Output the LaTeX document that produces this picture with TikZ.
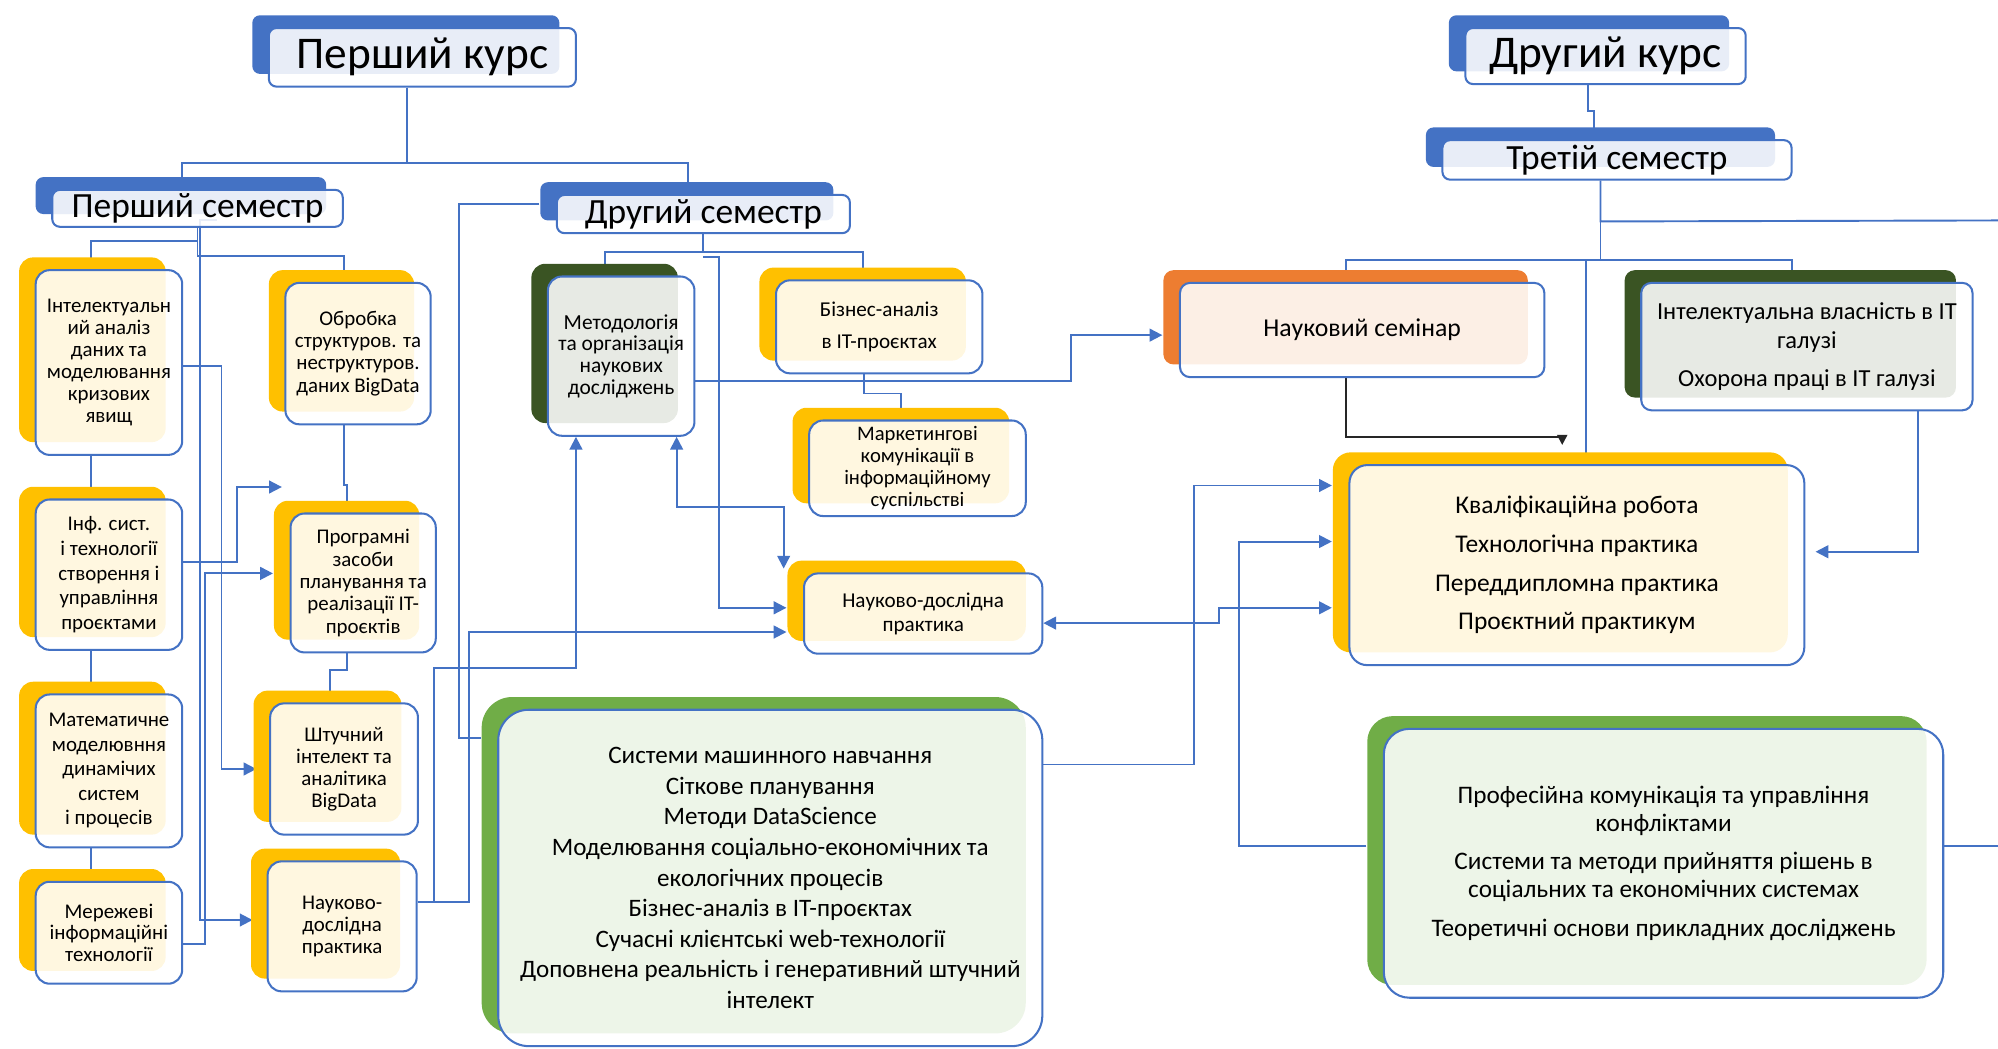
\documentclass[tikz,border=0pt]{standalone}
\usepackage{fontspec}
\setmainfont{Carlito}
\usetikzlibrary{positioning,shadows,arrows.meta,backgrounds}

\definecolor{boxblue}{HTML}{4472C4}
\definecolor{boxyellow}{HTML}{FFC000}
\definecolor{boxolive}{HTML}{3A5423}
\definecolor{boxorange}{HTML}{ED7D31}
\definecolor{boxgreen}{HTML}{70AD47}

\begin{document}
\begin{tikzpicture}[
  x=0.5pt, y=-0.5pt,
  txt/.style 2 args={font=\fontsize{#1}{#2}\selectfont},
  card/.style={shape=rectangle, rounded corners=5.5pt, draw=boxblue, line width=0.8pt,
    fill=white, fill opacity=0.88, text opacity=1, align=center, inner sep=0.5pt,
    general shadow={fill=#1, fill opacity=1, shadow xshift=-6.5pt, shadow yshift=5pt}},
  head/.style={card=boxblue, rounded corners=3pt, inner sep=0pt},
  conn/.style={draw=boxblue, line width=0.75pt},
  arr/.style={conn, -{Triangle[width=5pt,length=5pt]}},
  twoarr/.style={conn, {Triangle[width=5pt,length=5pt]}-{Triangle[width=5pt,length=5pt]}}
]
  \useasboundingbox (0,0) rectangle (1568,823);

  % Courses and semesters
  \node[head, txt={17.8pt}{19pt}, minimum width=120.5pt, minimum height=23pt] (k1) at (331.5,45) {Перший курс};
  \node[head, txt={13.9pt}{15pt}, minimum width=114pt, minimum height=14.5pt] (s1) at (155,163.5) {Перший семестр};
  \node[head, txt={13.9pt}{15pt}, minimum width=115pt, minimum height=15pt] (s2) at (552,168) {Другий семестр};
  \node[head, txt={17.8pt}{19pt}, minimum width=110pt, minimum height=22pt] (k2) at (1260,44) {Другий курс};
  \node[head, txt={13.9pt}{15pt}, minimum width=137pt, minimum height=15.5pt] (s3) at (1269,125.5) {Третій семестр};

  % First semester
  \node[card=boxyellow, txt={8.2pt}{8.6pt}, minimum width=57.5pt, minimum height=72.5pt] (ia) at (85.5,284.5)
    {Інтелектуальн\\ий аналіз\\даних та\\моделювання\\кризових\\явищ};
  \node[card=boxyellow, txt={8.2pt}{9.75pt}, minimum width=57.5pt, minimum height=59pt] (is) at (85.5,451)
    {Інф. сист.\\і технології\\створення і\\управління\\проєктами};
  \node[card=boxyellow, txt={8.2pt}{9.6pt}, minimum width=57.5pt, minimum height=60pt] (mm) at (85.5,605)
    {Математичне\\моделювння\\динамічих\\систем\\і процесів};
  \node[card=boxyellow, txt={8.2pt}{8.5pt}, minimum width=57.5pt, minimum height=40pt] (mi) at (85.5,732)
    {Мережеві\\інформаційні\\технології};
  \node[card=boxyellow, txt={8.2pt}{8.7pt}, minimum width=57pt, minimum height=55.5pt] (ob) at (281,277.5)
    {Обробка\\структуров. та\\неструктуров.\\даних BigData};
  \node[card=boxyellow, txt={8.2pt}{8.75pt}, minimum width=57pt, minimum height=54.5pt] (pz) at (285,457.5)
    {Програмні\\засоби\\планування та\\реалізації IT-\\проєктів};
  \node[card=boxyellow, txt={8.2pt}{8.6pt}, minimum width=58pt, minimum height=51.5pt] (si) at (270,603.5)
    {Штучний\\інтелект та\\аналітика\\BigData};
  \node[card=boxyellow, txt={8.2pt}{8.75pt}, minimum width=58.5pt, minimum height=51pt] (nd1) at (268.5,727)
    {Науково-\\дослідна\\практика};

  % Second semester
  \node[card=boxolive, txt={8.4pt}{8.5pt}, minimum width=57.5pt, minimum height=62.5pt] (me) at (487.5,279.5)
    {Методологія\\та організація\\наукових\\досліджень};
  \node[card=boxyellow, txt={8.3pt}{12.5pt}, minimum width=81pt, minimum height=36.5pt] (ba) at (690,256.5)
    {Бізнес-аналіз\\в IT-проєктах};
  \node[card=boxyellow, txt={8.1pt}{8.7pt}, minimum width=85pt, minimum height=37.5pt] (mk) at (720,367.5)
    {Маркетингові\\комунікації в\\інформаційному\\суспільстві};
  \node[card=boxyellow, txt={8.3pt}{9.5pt}, minimum width=93.5pt, minimum height=31.5pt] (nd2) at (724.5,481.5)
    {Науково-дослідна\\практика};
  \node[card=boxgreen, rounded corners=12pt, txt={9.85pt}{12pt}, minimum width=213.5pt, minimum height=132pt] (ml) at (604.5,689)
    {Системи машинного навчання\\Сіткове планування\\Методи DataScience\\Моделювання соціально-економічних та\\екологічних процесів\\Бізнес-аналіз в IT-проєктах\\Сучасні клієнтські web-технології\\Доповнена реальність і генеративний штучний\\інтелект};

  % Third semester
  \node[card=boxorange, rounded corners=4pt, txt={10.1pt}{11pt}, minimum width=143pt, minimum height=37pt] (ns) at (1069,259)
    {Науковий семінар};
  \node[card=boxolive, rounded corners=4pt, txt={9.6pt}{11.5pt}, minimum width=130pt, minimum height=50pt] (iv) at (1418,272)
    {Інтелектуальна власність в IT\\галузі\\[3.5pt]Охорона праці в IT галузі};
  \node[card=boxyellow, rounded corners=7pt, txt={10pt}{15.2pt}, minimum width=178.5pt, minimum height=78.5pt] (kr) at (1237.5,443.5)
    {Кваліфікаційна робота\\Технологічна практика\\Переддипломна практика\\Проєктний практикум};
  \node[card=boxgreen, rounded corners=10pt, txt={9.9pt}{11pt}, minimum width=219.5pt, minimum height=105.5pt] (pk) at (1305.5,677.5)
    {Професійна комунікація та управління\\конфліктами\\[4pt]Системи та методи прийняття рішень в\\соціальних та економічних системах\\[4pt]Теоретичні основи прикладних досліджень};

  \coordinate (edge1) at (1568,173);
  \coordinate (edge2) at (1568,664);

  \begin{scope}[on background layer]
    % Course to semesters
    \draw[conn] ([xshift=-6pt]k1.south) -- ++(0,-29.5pt) -| ([xshift=-6pt]s1.north);
    \draw[conn] ([xshift=-6pt]k1.south) -- ++(0,-29.5pt) -| ([xshift=-6pt]s2.north);
    % First semester
    \draw[conn] (s1.south) -- ++(0,-5pt) -| ([xshift=-7pt]ia.north);
    \draw[conn] (s1.south) -- ++(0,-11pt) -| ([xshift=-5.5pt]ob.north);
    \draw[conn] ([xshift=-7pt]ia.south) -- ([xshift=-7pt]is.north);
    \draw[conn] ([xshift=-7pt]is.south) -- ([xshift=-7pt]mm.north);
    \draw[conn] ([xshift=-7pt]mm.south) -- ([xshift=-7pt]mi.north);
    \draw[conn] ([xshift=-5.5pt]ob.south) -- ++(0,-23.5pt) -| ([xshift=-6.5pt]pz.north);
    \draw[conn] ([xshift=-6.5pt]pz.south) -- ++(0,-6.5pt) -| ([xshift=-5.5pt]si.north);
    \draw[arr] ([yshift=-1.25pt]ia.east) -- ++(15pt,0) |- ([xshift=-5pt]si.west);
    \draw[arr] ([yshift=5pt]is.east) -- ++(21pt,0) |- ([xshift=-3pt,yshift=10pt]pz.north west);
    \draw[arr] ([xshift=7.5pt,yshift=3pt]s1.south) -- ++(-6.5pt,0) |- ([xshift=-5.5pt,yshift=2.5pt]nd1.west);
    \draw[arr] ([yshift=-4.5pt]mi.east) -- ++(8.5pt,0) |- ([xshift=-6.5pt,yshift=3.75pt]pz.west);
    % Second semester
    \draw[conn] (s2.south) -- ++(0,-7pt) -| ([xshift=-6.5pt]me.north);
    \draw[conn] (s2.south) -- ++(0,-7pt) -| ([xshift=-6.5pt]ba.north);
    \draw[arr] ([yshift=-9pt]s2.south) -- ++(6pt,0) |- ([xshift=-6.5pt,yshift=2.25pt]nd2.west);
    \draw[conn] ([xshift=-6.5pt,yshift=4pt]s2.west) -- ++(-31.5pt,0) |- ([xshift=-6.5pt,yshift=55pt]ml.west);
    \draw[arr] ([yshift=-9.75pt]me.east) -- ++(147.5pt,0) |- ([xshift=-6.5pt,yshift=-2pt]ns.west);
    \draw[conn] ([xshift=-6pt]ba.south) -- ++(0,-7.5pt) -| ([xshift=-6.5pt]mk.north);
    \draw[twoarr] ([xshift=21.75pt]me.south) -- ++(0,-27.5pt) -| ([xshift=-54.75pt,yshift=1.5pt]nd2.north);
    \draw[arr] ([yshift=9.5pt]nd1.east) -- ++(6.5pt,0) -- ++(0,92pt) -| ([xshift=-17.75pt]me.south);
    \draw[arr] ([yshift=9.5pt]nd1.east) -- ++(20pt,0) |- ([xshift=-6.5pt,yshift=-7.25pt]nd2.west);
    % Into the final works
    \draw[arr] ([yshift=44.5pt]ml.east) -- ++(59pt,0) |- ([xshift=-6.5pt,yshift=31.25pt]kr.west);
    \draw[arr] ([xshift=-6.5pt,yshift=6.75pt]pk.west) -- ++(-50pt,0) |- ([xshift=-6.5pt,yshift=9.25pt]kr.west);
    \draw[twoarr] ([yshift=-3.75pt]nd2.east) -- ++(69pt,0) |- ([xshift=-6.5pt,yshift=-16.75pt]kr.west);
    % Second course
    \draw[conn] ([xshift=-7pt]k2.south) -- ++(0,-10pt) -| ([xshift=-9pt]s3.north);
    \draw[conn] ([xshift=-6.5pt]s3.south) -- ++(0,-31pt) -| ([xshift=-6.5pt]ns.north);
    \draw[conn] ([xshift=-6.5pt]s3.south) -- ++(0,-31pt) -| ([xshift=-6pt]iv.north);
    \draw[conn] ([xshift=-6.5pt]s3.south) -- ++(0,-31pt) -| ([xshift=3.75pt]kr.north);
    \draw[conn] ([xshift=-6.5pt]s3.south) -- ++(0,-16pt) -- (edge1);
    \draw[black!85, line width=0.75pt, -{Triangle[width=4pt,length=4pt]}] ([xshift=-6.5pt]ns.south) -- ++(0,-23pt) -| ([xshift=-5.75pt,yshift=7.5pt]kr.north);
    \draw[arr] ([xshift=43.5pt]iv.south) |- ([xshift=4pt,yshift=5.25pt]kr.east);
    \draw[conn] ([yshift=6.75pt]pk.east) -- (edge2);
  \end{scope}
\end{tikzpicture}
\end{document}
